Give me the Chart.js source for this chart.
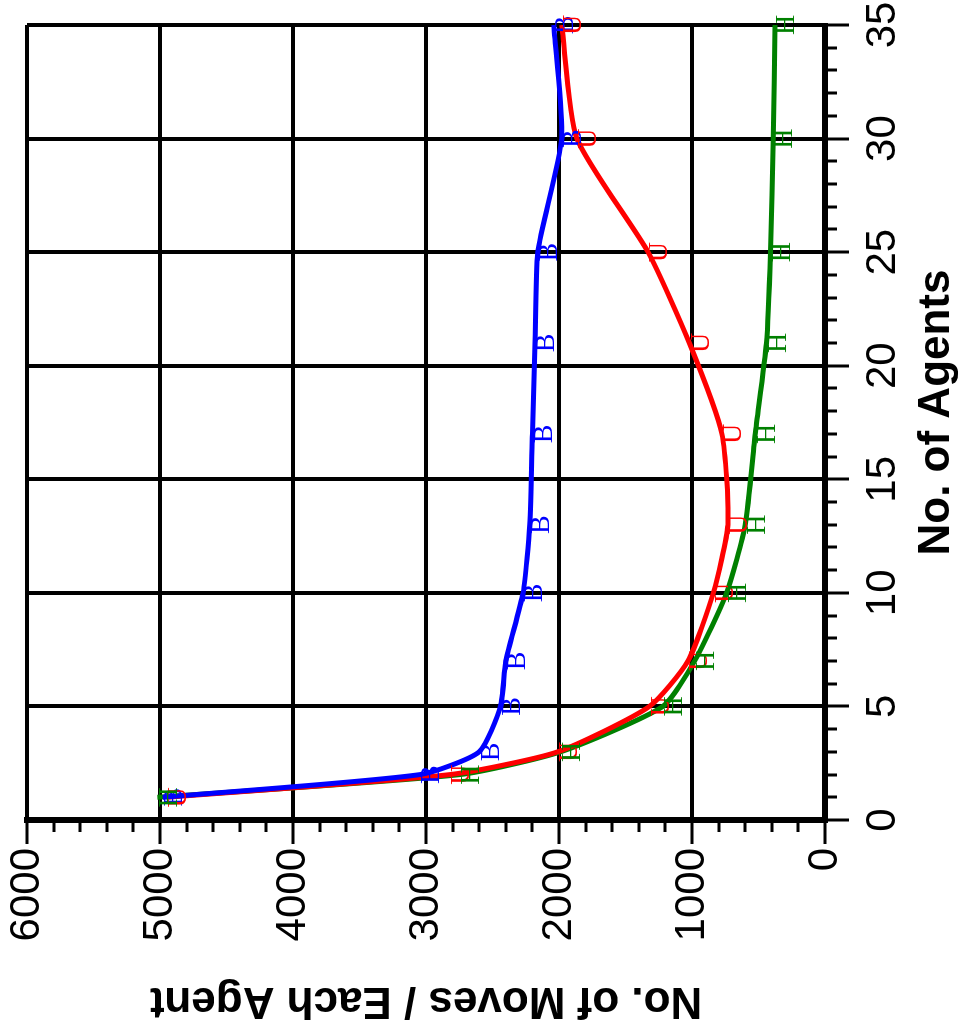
<!DOCTYPE html>
<html>
<head>
<meta charset="utf-8">
<script src="https://cdn.jsdelivr.net/npm/chart.js@4.4.1/dist/chart.umd.min.js"></script>
<style>
  html, body { margin: 0; padding: 0; background: #fff; overflow: hidden; }
  #wrap {
    position: absolute; left: 0; top: 0;
    width: 1030px; height: 960px;
    transform-origin: 0 0;
    transform: translateY(1030px) rotate(-90deg);
  }
  canvas { display: block; }
</style>
</head>
<body>
<div id="wrap"><canvas id="c" width="1030" height="960"></canvas></div>
<script>
// ---- data ----
const agents = [1, 2, 3, 5, 7, 10, 13, 17, 21, 25, 30, 35];
const movesBlue  = [4980, 3045, 2600, 2440, 2400, 2270, 2220, 2200, 2180, 2160, 1980, 2040];
const movesRed   = [4950, 2820, 2010, 1320, 1030, 840, 730, 775, 1020, 1330, 1865, 1980];
const movesGreen = [5020, 2745, 1990, 1220, 980, 740, 600, 525, 440, 410, 390, 375];
const seriesLetters = ['B', 'U', 'H'];
const xTitle = 'No. of Agents';
const yTitle = 'No. of Moves / Each Agent';

const pts = arr => agents.map((a, i) => ({ x: a, y: arr[i] }));

const letterPlugin = {
  id: 'letters',
  afterDatasetsDraw(chart) {
    const ctx = chart.ctx;
    ctx.save();
    ctx.font = '28px "Liberation Serif", "DejaVu Serif", serif';
    ctx.textAlign = 'center';
    ctx.textBaseline = 'top';
    chart.data.datasets.forEach((ds, di) => {
      const meta = chart.getDatasetMeta(di);
      ctx.fillStyle = ds.borderColor;
      meta.data.forEach(el => {
        ctx.fillText(seriesLetters[di], el.x, el.y - 2);
      });
    });
    ctx.restore();
  }
};

const ticksPlugin = {
  id: 'tickmarks',
  afterDraw(chart) {
    const ctx = chart.ctx;
    const xs = chart.scales.x, ys = chart.scales.y;
    const ca = chart.chartArea;
    ctx.save();
    ctx.strokeStyle = '#000';
    ctx.lineWidth = 3;
    ctx.beginPath();
    for (let v = 0; v <= 35; v++) {
      const px = Math.round(xs.getPixelForValue(v));
      const len = v % 5 === 0 ? 24 : 12;
      ctx.moveTo(px, ca.bottom);
      ctx.lineTo(px, ca.bottom + len);
    }
    for (let v = 0; v <= 6000; v += 200) {
      const py = Math.round(ys.getPixelForValue(v));
      const len = v % 1000 === 0 ? 24 : 12;
      ctx.moveTo(ca.left, py);
      ctx.lineTo(ca.left - len, py);
    }
    ctx.stroke();

    // axis titles
    ctx.fillStyle = '#000';
    ctx.font = 'bold 44px "Liberation Sans", Arial, sans-serif';
    ctx.textAlign = 'center';
    ctx.textBaseline = 'middle';
    ctx.fillText(xTitle, (ca.left + ca.right) / 2 + 10, 937);
    ctx.translate(30, (ca.top + ca.bottom) / 2);
    ctx.rotate(-Math.PI / 2);
    ctx.fillText(yTitle, 0, 0);
    ctx.restore();
  }
};

new Chart(document.getElementById('c'), {
  type: 'line',
  data: {
    datasets: [
      { label: 'B', data: pts(movesBlue),  borderColor: '#0000ff', backgroundColor: '#0000ff' },
      { label: 'U', data: pts(movesRed),   borderColor: '#ff0000', backgroundColor: '#ff0000' },
      { label: 'H', data: pts(movesGreen), borderColor: '#008000', backgroundColor: '#008000' }
    ]
  },
  options: {
    responsive: false,
    animation: false,
    devicePixelRatio: 1,
    layout: { padding: { left: 0, right: 25, top: 27, bottom: 0 } },
    elements: {
      line: { borderWidth: 5, tension: 0.2 },
      point: { radius: 0, hoverRadius: 0 }
    },
    plugins: { legend: { display: false }, tooltip: { enabled: false } },
    scales: {
      x: {
        type: 'linear', min: 0, max: 35,
        afterFit(s) { s.height = 135; s.paddingLeft = 0; s.paddingRight = 0; },
        ticks: {
          stepSize: 5, color: '#000', padding: 33, maxRotation: 0,
          callback: v => String(v),
          font: { family: '"Liberation Sans", Arial, sans-serif', size: 42 }
        },
        grid: { color: '#000', lineWidth: 4, drawTicks: false },
        border: { color: '#000', width: 6 }
      },
      y: {
        type: 'linear', min: 0, max: 6000,
        afterFit(s) { s.width = 210; s.paddingTop = 0; s.paddingBottom = 0; },
        ticks: {
          stepSize: 1000, color: '#000', padding: 28,
          callback: v => String(v),
          font: { family: '"Liberation Sans", Arial, sans-serif', size: 42 }
        },
        grid: { color: '#000', lineWidth: 4, drawTicks: false },
        border: { color: '#000', width: 6 }
      }
    }
  },
  plugins: [letterPlugin, ticksPlugin]
});
</script>
</body>
</html>
